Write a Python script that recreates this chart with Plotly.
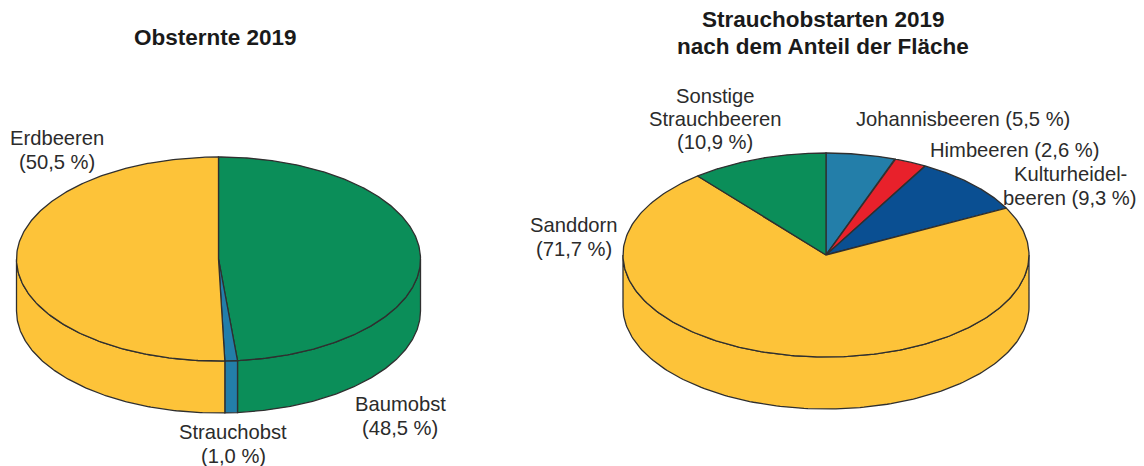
import numpy as np
import plotly.graph_objects as go

# Data
left_labels = ["Baumobst", "Strauchobst", "Erdbeeren"]
left_values = [48.5, 1.0, 50.5]
left_colors = ["#0b8e59", "#237ea9", "#fdc339"]

right_labels = ["Johannisbeeren", "Himbeeren", "Kulturheidelbeeren", "Sanddorn", "Sonstige Strauchbeeren"]
right_values = [5.5, 2.6, 9.3, 71.7, 10.9]
right_colors = ["#237ea9", "#e8212b", "#0a4f92", "#fdc339", "#0b8e59"]

EDGE = "#2f2f2f"
FONT = "Liberation Sans, Arial, sans-serif"
TEXT = "#2b2b2b"

fig = go.Figure()


def ell(cx, cy, rx, ry, t):
    return cx + rx * np.sin(t), cy - ry * np.cos(t)


def add_poly(x, y, color, name):
    fig.add_trace(go.Scatter(
        x=x, y=y, mode="lines", fill="toself", fillcolor=color, name=name,
        line=dict(color=EDGE, width=1.3), hoverinfo="name", showlegend=False))


def pie3d(labels, values, colors, cx, cy, rx, ry, depth):
    edges = np.radians(np.cumsum([0] + list(values)) * 3.6)
    # side walls: only the visible front half
    for i, lab in enumerate(labels):
        a = max(edges[i], np.pi / 2)
        b = min(edges[i + 1], 3 * np.pi / 2)
        if b <= a:
            continue
        t = np.linspace(a, b, 160)
        x, y = ell(cx, cy, rx, ry, t)
        add_poly(np.r_[x, x[::-1], x[0]], np.r_[y, y[::-1] + depth, y[0]], colors[i], lab)
    # top faces
    for i, lab in enumerate(labels):
        t = np.linspace(edges[i], edges[i + 1], 240)
        x, y = ell(cx, cy, rx, ry, t)
        add_poly(np.r_[cx, x, cx], np.r_[cy, y, cy], colors[i], lab)


pie3d(left_labels, left_values, left_colors, 218.5, 259, 202, 102, 52)
pie3d(right_labels, right_values, right_colors, 826, 255, 203, 102, 52)

titles = [
    (215.5, 37, "Obsternte 2019"),
    (823, 19, "Strauchobstarten 2019"),
    (823, 46, "nach dem Anteil der Fläche"),
]
labels = [
    (57, 138, "Erdbeeren"), (57, 162, "(50,5 %)"),
    (400, 404, "Baumobst"), (400, 428, "(48,5 %)"),
    (233, 432, "Strauchobst"), (233, 456, "(1,0 %)"),
    (715, 96, "Sonstige"), (715, 119, "Strauchbeeren"), (715, 142, "(10,9 %)"),
    (962.5, 119, "Johannisbeeren (5,5 %)"),
    (1014, 150, "Himbeeren (2,6 %)"),
    (1070, 174, "Kulturheidel-"), (1070, 198, "beeren (9,3 %)"),
    (574, 225, "Sanddorn"), (574, 249, "(71,7 %)"),
]
for x, y, txt in titles:
    fig.add_annotation(x=x, y=y, xref="x", yref="y", text=f"<b>{txt}</b>", showarrow=False,
                       font=dict(family=FONT, size=22.5, color="#1a1a1a"))
for x, y, txt in labels:
    fig.add_annotation(x=x, y=y, xref="x", yref="y", text=txt, showarrow=False,
                       font=dict(family=FONT, size=20.2, color=TEXT))

fig.update_layout(
    width=1144, height=466, margin=dict(l=0, r=0, t=0, b=0),
    paper_bgcolor="white", plot_bgcolor="white", showlegend=False,
    xaxis=dict(range=[0, 1144], visible=False, fixedrange=True),
    yaxis=dict(range=[466, 0], visible=False, fixedrange=True),
)
fig.write_html(
    "out.html", config={"displayModeBar": False},
    post_script="document.body.style.margin='0';document.documentElement.style.overflow='hidden';")
